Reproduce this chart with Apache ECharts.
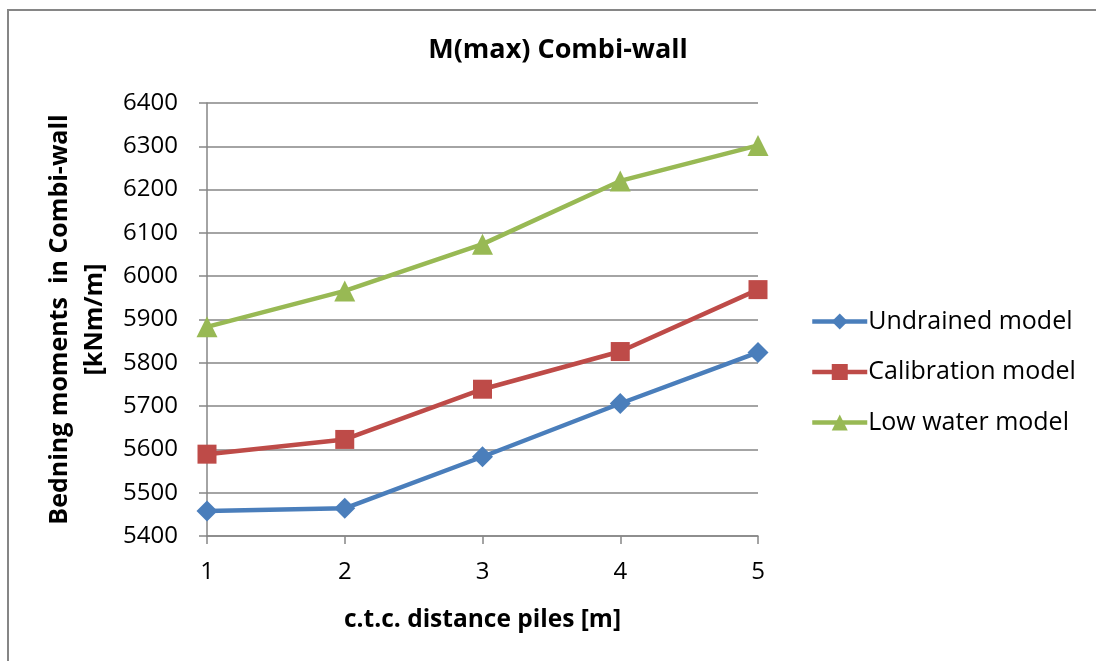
<!DOCTYPE html>
<html><head><meta charset="utf-8">
<script src="https://cdn.jsdelivr.net/npm/echarts@6/dist/echarts.min.js"></script>
<style>
html,body{margin:0;padding:0;background:#fff;}
#frame{position:absolute;left:7px;top:9px;width:1100px;height:670px;border-left:2px solid #868686;border-top:2px solid #868686;box-sizing:border-box;}
#c{position:absolute;left:0;top:0;width:1096px;height:661px;}
</style></head>
<body>
<div id="frame"></div>
<div id="c"></div>
<script>
const categories = ['1','2','3','4','5'];
const undrained = [5458, 5464, 5583, 5706, 5824];
const calibration = [5589, 5623, 5739, 5826, 5969];
const lowWater = [5883, 5966, 6074, 6220, 6302];
const seriesNames = ['Undrained model','Calibration model','Low water model'];

const FONT = 'Open Sans';
const chart = echarts.init(document.getElementById('c'), null, {renderer:'canvas'});
const axisGray = '#868686';
function mk(name, data, color, symbol, size){
  return {name, type:'line', data, symbol, symbolSize:size,
    lineStyle:{color, width:4.5}, itemStyle:{color}, color};
}
chart.setOption({
  animation:false,
  title:{text:'M(max) Combi-wall', left:553, top:32, textAlign:'center',
    textStyle:{fontFamily:FONT, fontWeight:'bold', fontSize:27, color:'#000'}},
  grid:{left:207, right:338, top:103, bottom:125, containLabel:false},
  legend:{orient:'vertical', left:805, top:304, itemWidth:55, itemHeight:20, itemGap:25.5,
    data:seriesNames,
    lineStyle:{width:4.5},
    textStyle:{fontFamily:FONT, fontSize:25, color:'#000', padding:[0,0,0,-4]}},
  xAxis:{type:'category', data:categories, boundaryGap:false,
    name:'c.t.c. distance piles [m]', nameLocation:'middle', nameGap:72,
    nameTextStyle:{fontFamily:FONT, fontWeight:'bold', fontSize:24.5, color:'#000'},
    axisLine:{lineStyle:{color:axisGray, width:1.5}},
    axisTick:{alignWithLabel:true, length:8, lineStyle:{color:axisGray, width:1.5}},
    axisLabel:{fontFamily:FONT, fontSize:24, color:'#000', margin:24},
    splitLine:{show:false}},
  yAxis:{type:'value', min:5400, max:6400, interval:100,
    name:'Bedning moments  in Combi-wall\n[kNm/m]', nameLocation:'middle', nameGap:95, nameRotate:90,
    nameTextStyle:{fontFamily:FONT, fontWeight:'bold', fontSize:25, color:'#000', lineHeight:35},
    axisLine:{show:true, lineStyle:{color:axisGray, width:1.5}},
    axisTick:{show:true, length:8, lineStyle:{color:axisGray, width:1.5}},
    axisLabel:{fontFamily:FONT, fontSize:24, color:'#000', margin:29, formatter:v=>String(v)},
    splitLine:{lineStyle:{color:axisGray, width:1.5}}},
  series:[
    mk(seriesNames[0], undrained, '#4a7ebb', 'diamond', 21),
    mk(seriesNames[1], calibration, '#be4b48', 'rect', 19),
    mk(seriesNames[2], lowWater, '#98b954', 'triangle', 21)
  ]
});
</script>
</body></html>
